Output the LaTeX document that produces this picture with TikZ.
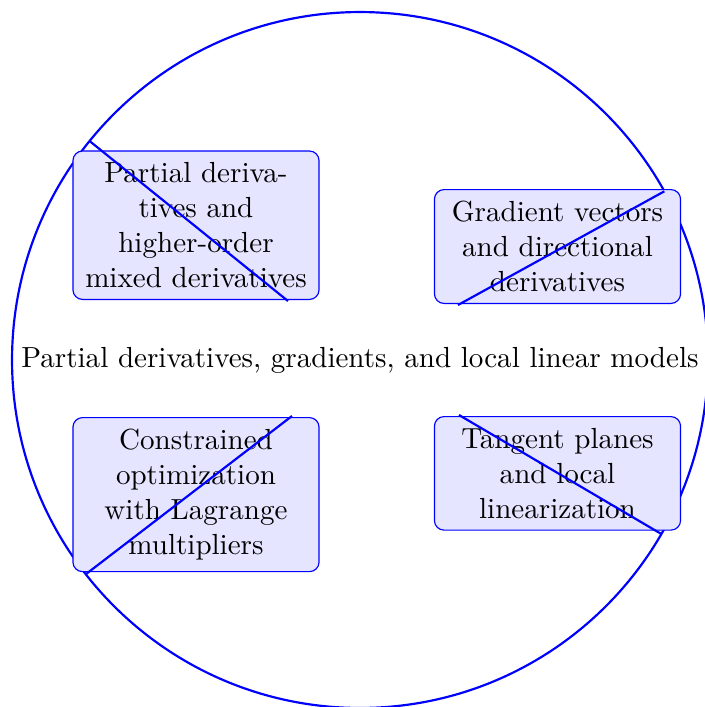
\documentclass[tikz,border=0pt]{standalone}
\begin{document}
\begin{tikzpicture}[x=0.344pt,y=-0.344pt,
  topicbox/.style={draw=blue, fill=blue!10, rounded corners=3.3pt, text width=78pt, align=center, inner xsep=3.33pt, inner ysep=4pt},
  rim/.style={draw=blue, line width=0.75pt},
  spoke/.style={draw=blue, line width=0.75pt}]
\useasboundingbox (0,0) rectangle (705,707);
\node[circle, rim, minimum size=239.4pt, inner sep=0pt, outer sep=0pt] (c) at (360,360) {};
\node (t) at (360,360) {Partial derivatives, gradients, and local linear models};
\node[topicbox, anchor=south] (b1) at (196,300) {Partial derivatives and higher-order mixed derivatives};
\node[topicbox, anchor=south] (b2) at (557.5,304) {Gradient vectors and directional derivatives};
\node[topicbox, anchor=north] (b3) at (196,417) {Constrained optimization with Lagrange multipliers};
\node[topicbox, anchor=north] (b4) at (557.5,416) {Tangent planes and local linearization};
\coordinate (p1) at (288,301);
\coordinate (p2) at (458,305);
\coordinate (p3) at (292,416);
\coordinate (p4) at (459,415);
\draw[spoke] (c.141.1) -- (p1);
\draw[spoke] (c.29.4) -- (p2);
\draw[spoke] (c.218.9) -- (p3);
\draw[spoke] (c.330.6) -- (p4);
\end{tikzpicture}
\end{document}
